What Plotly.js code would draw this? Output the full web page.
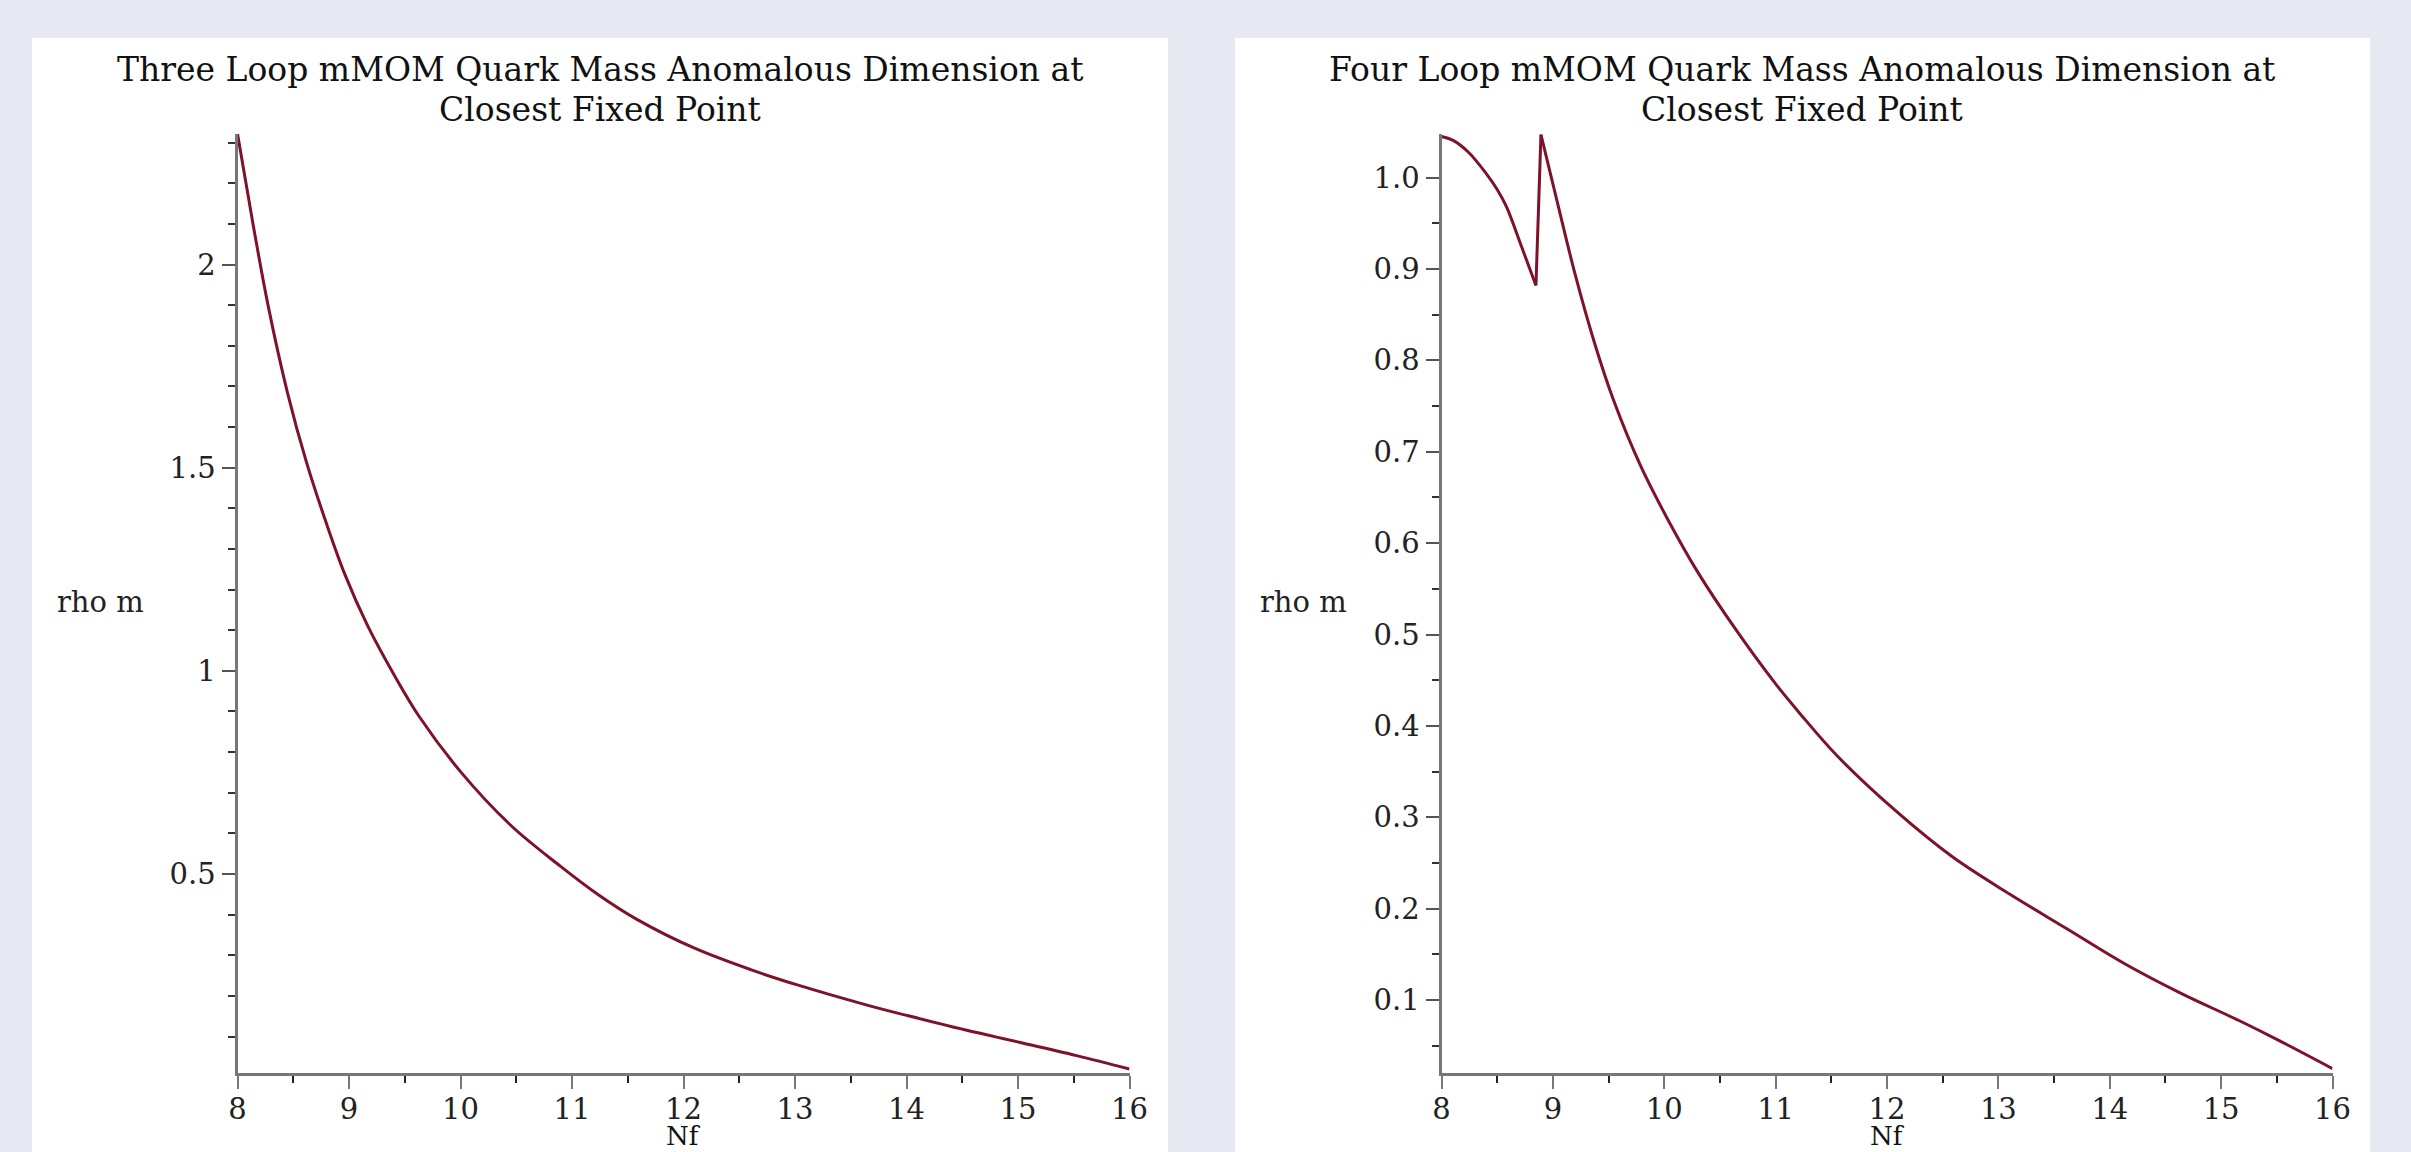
<!DOCTYPE html>
<html><head><meta charset="utf-8">
<script src="https://cdn.plot.ly/plotly-3.0.1.min.js"></script>
<style>html,body{margin:0;padding:0;background:#E8E8F3;} #chart{width:2411px;height:1152px;}</style>
</head><body><div id="chart"></div>
<script>
// ---- data ----
const nf3 = [8.0, 8.139, 8.276, 8.448, 8.619, 8.791, 8.962, 9.169, 9.409, 9.631, 10.0, 10.45, 10.892, 11.236, 11.578, 12.094, 12.609, 13.021, 13.638, 14.016, 14.531, 15.011, 15.526, 16.0];
const rho3 = [2.322, 2.100, 1.897, 1.685, 1.513, 1.368, 1.238, 1.110, 0.988, 0.887, 0.752, 0.620, 0.520, 0.449, 0.389, 0.318, 0.264, 0.227, 0.178, 0.151, 0.116, 0.086, 0.053, 0.02];
const nf4 = [8.0, 8.1, 8.24, 8.41, 8.5, 8.584, 8.72, 8.848, 8.893, 9.03, 9.2, 9.374, 9.546, 9.786, 10.027, 10.302, 10.645, 11.0, 11.229, 11.554, 12.069, 12.584, 13.1, 13.615, 14.13, 14.645, 15.16, 15.504, 16.0];
const rho4 = [1.045, 1.041, 1.028, 1.003, 0.987, 0.968, 0.924, 0.882, 1.047, 0.978, 0.894, 0.819, 0.756, 0.685, 0.627, 0.568, 0.505, 0.446, 0.412, 0.367, 0.308, 0.257, 0.216, 0.178, 0.140, 0.107, 0.0776, 0.0567, 0.025];
const xTickVals = [8, 9, 10, 11, 12, 13, 14, 15, 16];
const xTickText = ['8', '9', '10', '11', '12', '13', '14', '15', '16'];
const y3TickVals = [0.5, 1, 1.5, 2];
const y3TickText = ['0.5', '1', '1.5', '2'];
const y4TickVals = [0.1, 0.2, 0.3, 0.4, 0.5, 0.6, 0.7, 0.8, 0.9, 1.0];
const y4TickText = ['0.1', '0.2', '0.3', '0.4', '0.5', '0.6', '0.7', '0.8', '0.9', '1.0'];
const titles = ['Three Loop mMOM Quark Mass Anomalous Dimension at<br>Closest Fixed Point',
                'Four Loop mMOM Quark Mass Anomalous Dimension at<br>Closest Fixed Point'];
const xLabel = 'Nf';
const yLabel = 'rho m';

// ---- layout helpers ----
const W = 2411, H = 1152;
const px = v => v / W;
const py = v => 1 - v / H;
const lineColor = '#7E1229';
const tickFont = {family: 'DejaVu Serif', size: 29, color: '#222'};

function xAxis(d0, d1, anchor) {
  return {
    domain: [px(d0), px(d1)], range: [8, 16], anchor: anchor,
    showline: true, linecolor: '#777', linewidth: 3, mirror: false,
    showgrid: false, zeroline: false,
    ticks: 'outside', ticklen: 13, tickwidth: 2, tickcolor: '#777',
    tickmode: 'array', tickvals: xTickVals, ticktext: xTickText,
    tickfont: tickFont, ticklabelstandoff: -5,
    minor: {ticks: 'outside', ticklen: 7, tickwidth: 2, tickcolor: '#222', tick0: 8, dtick: 0.5, showgrid: false},
    fixedrange: true
  };
}
function yAxis(range, vals, text, mdtick, anchor) {
  return {
    domain: [py(1072.7), py(133.7)], range: range, anchor: anchor,
    showline: true, linecolor: '#777', linewidth: 3,
    showgrid: false, zeroline: false,
    ticks: 'outside', ticklen: 13, tickwidth: 2, tickcolor: '#555',
    tickmode: 'array', tickvals: vals, ticktext: text,
    tickfont: tickFont,
    minor: {ticks: 'outside', ticklen: 7, tickwidth: 2, tickcolor: '#333', tick0: 0, dtick: mdtick, showgrid: false},
    fixedrange: true
  };
}

// four-loop curve: smooth part, jump, smooth part
const dip = 7, peak = 8;
const lineStyle = (shape) => ({color: lineColor, width: 3, shape: shape, smoothing: 1});
const traces = [
  {x: nf3, y: rho3, type: 'scatter', mode: 'lines', xaxis: 'x', yaxis: 'y', line: lineStyle('spline'), hoverinfo: 'skip'},
  {x: nf4.slice(0, dip + 1), y: rho4.slice(0, dip + 1), type: 'scatter', mode: 'lines', xaxis: 'x2', yaxis: 'y2', line: lineStyle('spline'), hoverinfo: 'skip'},
  {x: nf4.slice(dip, peak + 1), y: rho4.slice(dip, peak + 1), type: 'scatter', mode: 'lines', xaxis: 'x2', yaxis: 'y2', line: lineStyle('linear'), hoverinfo: 'skip'},
  {x: nf4.slice(peak), y: rho4.slice(peak), type: 'scatter', mode: 'lines', xaxis: 'x2', yaxis: 'y2', line: lineStyle('spline'), hoverinfo: 'skip'}
];

const titleFont = {family: 'DejaVu Serif', size: 33, color: '#111'};
const annotations = [];
[[600, 0], [1802, 1]].forEach(([cx, i]) => {
  titles[i].split('<br>').forEach((line, k) => {
    annotations.push({text: line, xref: 'paper', yref: 'paper', x: px(cx), y: py(69 + 40 * k),
      xanchor: 'center', yanchor: 'middle', showarrow: false, font: titleFont});
  });
});
[[55, 683], [1258, 1887]].forEach(([lx, nx]) => {
  annotations.push({text: yLabel, xref: 'paper', yref: 'paper', x: px(lx), y: py(602), xanchor: 'left', yanchor: 'middle',
    showarrow: false, font: {family: 'DejaVu Serif', size: 29, color: '#222'}});
  annotations.push({text: xLabel, xref: 'paper', yref: 'paper', x: px(nx), y: 0, xanchor: 'center', yanchor: 'bottom',
    showarrow: false, borderpad: 0, font: {family: 'DejaVu Serif', size: 26, color: '#111'}});
});

const layout = {
  width: W, height: H,
  margin: {l: 0, r: 0, t: 0, b: 0, pad: 0},
  paper_bgcolor: '#E8E8F3', plot_bgcolor: '#FFFFFF',
  showlegend: false,
  xaxis: xAxis(237.5, 1129.5, 'y'),
  yaxis: yAxis([0.011, 2.322], y3TickVals, y3TickText, 0.1, 'x'),
  xaxis2: xAxis(1441.5, 2332.5, 'y2'),
  yaxis2: yAxis([0.0205, 1.048], y4TickVals, y4TickText, 0.05, 'x2'),
  shapes: [
    {type: 'rect', xref: 'paper', yref: 'paper', x0: px(32), x1: px(1168), y0: py(1160), y1: py(38),
     fillcolor: '#FFFFFF', line: {width: 0}, layer: 'below'},
    {type: 'rect', xref: 'paper', yref: 'paper', x0: px(1235), x1: px(2370), y0: py(1160), y1: py(38),
     fillcolor: '#FFFFFF', line: {width: 0}, layer: 'below'}
  ],
  annotations: annotations
};

Plotly.newPlot('chart', traces, layout, {displayModeBar: false, staticPlot: true});
</script>
</body></html>
